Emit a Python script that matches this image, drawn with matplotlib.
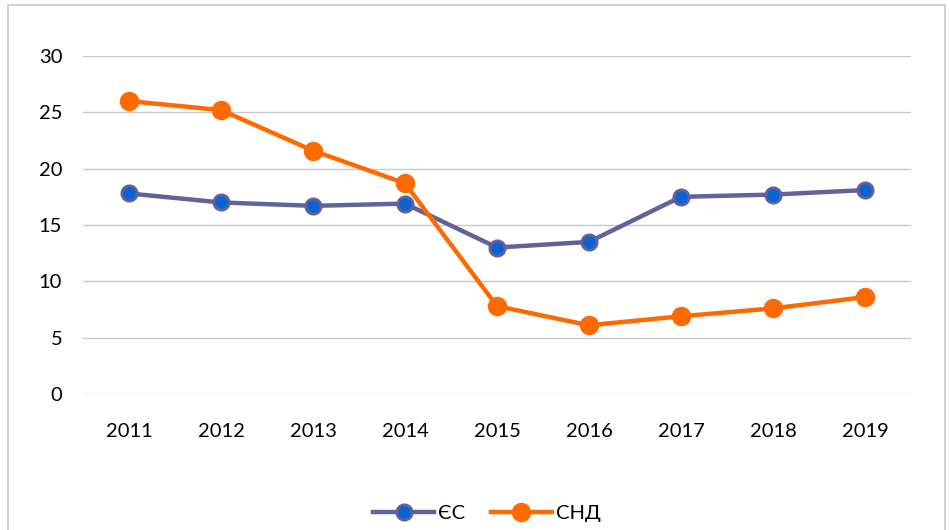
import matplotlib.pyplot as plt
from matplotlib.patches import Rectangle

years = ['2011', '2012', '2013', '2014', '2015', '2016', '2017', '2018', '2019']
eu = [17.8, 17.0, 16.7, 16.9, 13.0, 13.5, 17.5, 17.7, 18.1]
cis = [26.0, 25.2, 21.6, 18.7, 7.8, 6.1, 6.9, 7.6, 8.6]

plt.rcParams['font.family'] = ['Lato', 'DejaVu Sans']

fig = plt.figure(figsize=(9.49, 5.30), dpi=100)
ax = fig.add_axes([83 / 949, (530 - 394) / 530, 828 / 949, 338 / 530])

# chart frame
fig.patches.append(Rectangle((8 / 949, -0.01), 937 / 949, 1 - 5 / 530 + 0.01,
                             transform=fig.transFigure, fill=False,
                             edgecolor='#c8c8c8', linewidth=1.2))

x = range(len(years))
ax.plot(x, eu, color='#62619a', linewidth=3.2, marker='o', markersize=11,
        markerfacecolor='#0a63cf', markeredgecolor='#62619a', markeredgewidth=2,
        label='ЄС', zorder=3)
ax.plot(x, cis, color='#ff6a00', linewidth=3.2, marker='o', markersize=13,
        markerfacecolor='#ff6a00', markeredgecolor='#ff6a00',
        label='СНД', zorder=3)

ax.set_xlim(-0.5, len(years) - 0.5)
ax.set_ylim(0, 30)
ax.set_yticks(range(0, 31, 5))
ax.set_xticks(list(x))
ax.set_xticklabels(years)
ax.grid(axis='y', color='#c8c8c8', linewidth=1)
ax.set_axisbelow(True)
for s in ax.spines.values():
    s.set_visible(False)
ax.tick_params(length=0, labelsize=14.5, colors='black')
ax.tick_params(axis='y', pad=15)
ax.tick_params(axis='x', pad=21)

fig.legend(loc='center', bbox_to_anchor=(487 / 949, 1 - 513 / 530), ncol=2,
           frameon=False, fontsize=14.5, handlelength=3.0, columnspacing=1.3,
           handletextpad=0.2)

fig.savefig('out.png', dpi=100)
